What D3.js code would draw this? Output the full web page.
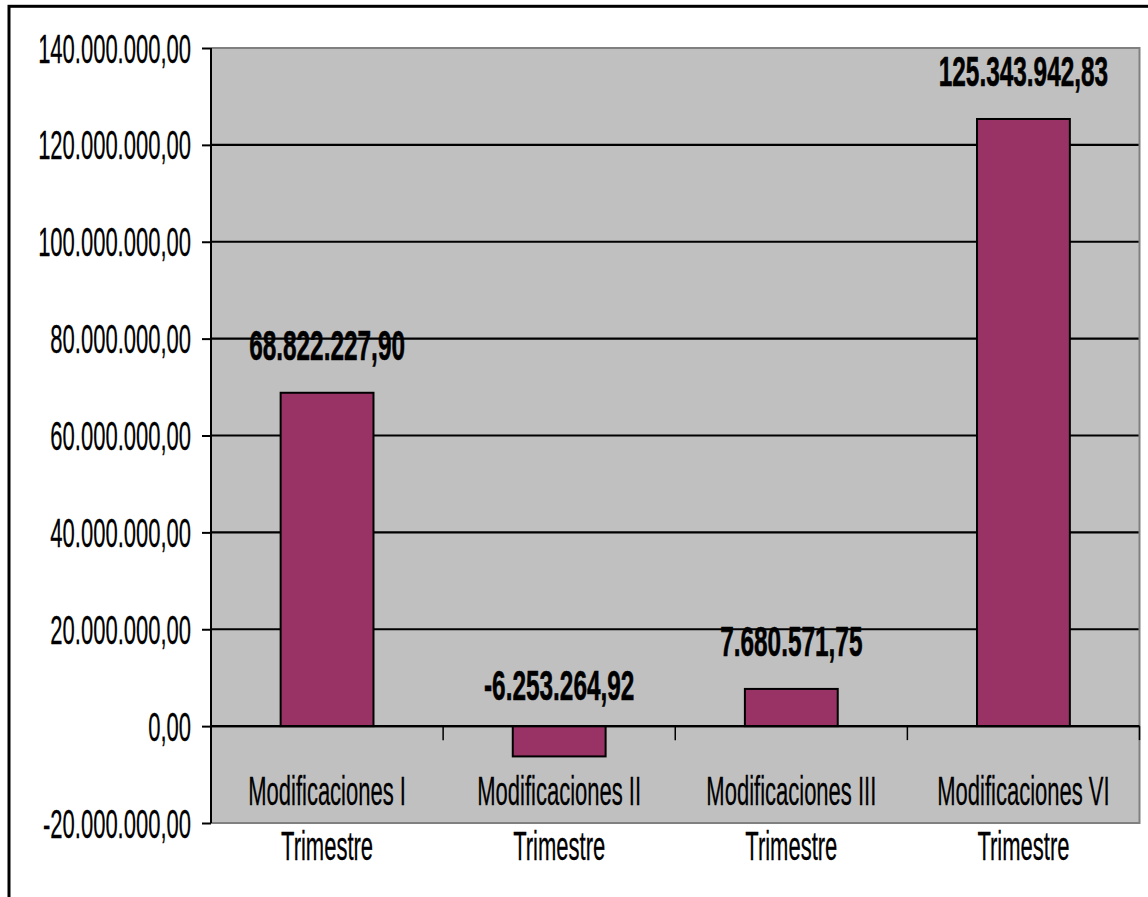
<!DOCTYPE html>
<html>
<head>
<meta charset="utf-8">
<script src="https://cdn.jsdelivr.net/npm/d3@7"></script>
<style>
  html, body { margin: 0; padding: 0; background: #fff; }
  svg { display: block; }
  text { font-family: "Liberation Sans", Arial, sans-serif; fill: #000; }
</style>
</head>
<body>
<svg id="chart" width="1148" height="897"></svg>
<script>
// ---- data ----
const categories = ["Modificaciones I", "Modificaciones II", "Modificaciones III", "Modificaciones VI"];
const categorySubLabel = "Trimestre";
const values = [68822227.90, -6253264.92, 7680571.75, 125343942.83];
const yTicks = [-20000000, 0, 20000000, 40000000, 60000000, 80000000, 100000000, 120000000, 140000000];
const yDomain = [-20000000, 140000000];

// ---- layout ----
const W = 1148, H = 897;
const plot = { left: 211, right: 1139.5, top: 48, bottom: 823 };
const regSize = 40, regSX = 0.55, regStroke = 0.3;
const boldSize = 43, boldSX = 0.567, boldStroke = 0.6;

const locale = d3.formatLocale({ decimal: ",", thousands: ".", grouping: [3], currency: ["", ""], minus: "-" });
const fmt = locale.format(",.2f");

const svg = d3.select("#chart");

const y = d3.scaleLinear().domain(yDomain).range([plot.bottom, plot.top]);
const x = d3.scaleBand().domain(categories).range([plot.left, plot.right]).padding(0);
const barFrac = 0.4;

// outer chart border (cropped at right/bottom)
svg.append("rect")
  .attr("x", 9).attr("y", 6.3)
  .attr("width", W + 20).attr("height", H + 20)
  .attr("fill", "none").attr("stroke", "#000").attr("stroke-width", 3);

// plot background
svg.append("rect")
  .attr("x", plot.left).attr("y", plot.top)
  .attr("width", plot.right - plot.left).attr("height", plot.bottom - plot.top)
  .attr("fill", "#c0c0c0");

// gridlines
svg.append("g").selectAll("line")
  .data(yTicks.filter(t => t !== yDomain[0] && t !== yDomain[1]))
  .join("line")
  .attr("x1", plot.left).attr("x2", plot.right)
  .attr("y1", d => y(d)).attr("y2", d => y(d))
  .attr("stroke", "#000").attr("stroke-width", 2.2);

// plot border (gray) top/right/bottom
svg.append("path")
  .attr("d", `M${plot.left},${plot.top}H${plot.right}V${plot.bottom}H${plot.left}`)
  .attr("fill", "none").attr("stroke", "#808080").attr("stroke-width", 2);

// bars
svg.append("g").selectAll("rect")
  .data(values)
  .join("rect")
  .attr("x", (d, i) => x(categories[i]) + x.bandwidth() * (1 - barFrac) / 2)
  .attr("width", x.bandwidth() * barFrac)
  .attr("y", d => y(Math.max(0, d)))
  .attr("height", d => Math.abs(y(d) - y(0)))
  .attr("fill", "#993366")
  .attr("stroke", "#000").attr("stroke-width", 2);

// category axis at zero
svg.append("line")
  .attr("x1", plot.left).attr("x2", plot.right)
  .attr("y1", y(0)).attr("y2", y(0))
  .attr("stroke", "#000").attr("stroke-width", 2.2);
svg.append("g").selectAll("line")
  .data(categories)
  .join("line")
  .attr("x1", d => x(d) + x.bandwidth()).attr("x2", d => x(d) + x.bandwidth())
  .attr("y1", y(0)).attr("y2", y(0) + 14)
  .attr("stroke", "#000").attr("stroke-width", 1.5);

// y axis
const yAxis = d3.axisLeft(y).tickValues(yTicks).tickSize(9).tickFormat(fmt);
const gy = svg.append("g").attr("transform", `translate(${plot.left},0)`).call(yAxis);
gy.select(".domain").attr("stroke", "#000").attr("stroke-width", 2).attr("d", `M0,${plot.top}V${plot.bottom}`);
gy.selectAll(".tick line").attr("stroke", "#000").attr("stroke-width", 2);
gy.selectAll(".tick text").remove();
gy.selectAll(".tick").each(function(d) {
  d3.select(this).append("text")
    .attr("transform", `translate(-20, 14) scale(${regSX},1)`)
    .attr("text-anchor", "end")
    .attr("font-size", regSize)
    .attr("fill", "#000").attr("stroke", "#000").attr("stroke-width", regStroke)
    .text(fmt(d));
});

// category labels (two lines)
const cl = svg.append("g").selectAll("g")
  .data(categories)
  .join("g")
  .attr("transform", d => `translate(${x(d) + x.bandwidth() / 2},0)`);
cl.append("text")
  .attr("transform", `translate(0,805) scale(${regSX},1)`)
  .attr("text-anchor", "middle").attr("font-size", regSize)
  .attr("stroke", "#000").attr("stroke-width", regStroke)
  .text(d => d);
cl.append("text")
  .attr("transform", `translate(0,860) scale(${regSX},1)`)
  .attr("text-anchor", "middle").attr("font-size", regSize)
  .attr("stroke", "#000").attr("stroke-width", regStroke)
  .text(categorySubLabel);

// value labels
svg.append("g").selectAll("text")
  .data(values)
  .join("text")
  .attr("transform", (d, i) => `translate(${x(categories[i]) + x.bandwidth() / 2},${y(Math.max(0, d)) - (d >= 0 ? 33 : 26)}) scale(${boldSX},1)`)
  .attr("text-anchor", "middle")
  .attr("font-size", boldSize).attr("font-weight", "bold")
  .attr("stroke", "#000").attr("stroke-width", boldStroke)
  .text(d => fmt(d));
</script>
</body>
</html>
